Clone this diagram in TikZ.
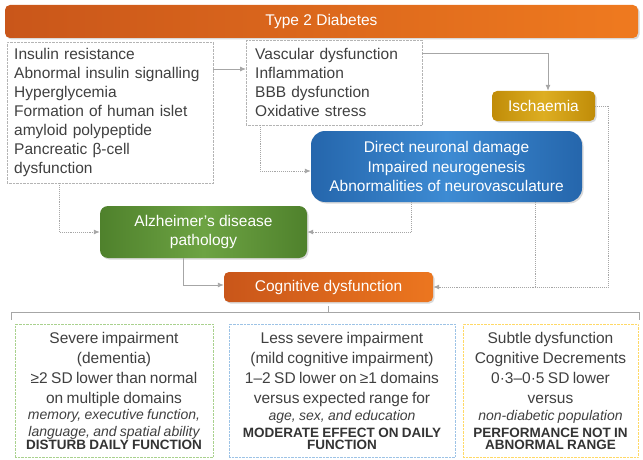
\documentclass[tikz,border=0pt]{standalone}
\usepackage{fontspec}
\setmainfont{Liberation Sans}
\usetikzlibrary{arrows.meta,positioning,shadows}
\definecolor{ink}{HTML}{404040}
\definecolor{darkink}{HTML}{333333}
\definecolor{wire}{HTML}{A6A6A6}
\definecolor{frame}{HTML}{B4B4B4}
\definecolor{diabdark}{HTML}{C9561A}
\definecolor{diablight}{HTML}{EF7A1F}
\definecolor{ischdark}{HTML}{C08C08}
\definecolor{ischlight}{HTML}{DDAE22}
\definecolor{bluedark}{HTML}{2566AC}
\definecolor{bluelight}{HTML}{3D8BD3}
\definecolor{greendark}{HTML}{4F812C}
\definecolor{greenlight}{HTML}{6DA343}
\definecolor{cogdark}{HTML}{C9561A}
\definecolor{coglight}{HTML}{EC761F}
\definecolor{sevframe}{HTML}{A9D18E}
\definecolor{mildframe}{HTML}{9DC3E6}
\definecolor{subtframe}{HTML}{FFD966}
\newcommand{\bigtxt}{\fontsize{15.5}{20}\selectfont}
\newcommand{\smalltxt}{\fontsize{14}{16.5}\selectfont\itshape}
\newcommand{\capstxt}{\fontsize{13.5}{17}\selectfont\upshape\bfseries\color{darkink}}
\tikzset{
  >={Latex[length=6pt,width=5pt]},
  every node/.style={text=ink},
  listbox/.style={draw=frame,densely dotted,fill=white,anchor=north west,align=left,
    font=\fontsize{15.5}{19}\selectfont,inner ysep=3pt},
  solidbox/.style={draw=none,text=white,align=center,font=\fontsize{15.5}{19.5}\selectfont,
    drop shadow={shadow xshift=1.5pt,shadow yshift=-1.5pt,opacity=0.3}},
  bannerbox/.style={solidbox,left color=diabdark,right color=diablight,rounded corners=5pt},
  ischbox/.style={solidbox,left color=ischdark,right color=ischdark,middle color=ischlight,rounded corners=5pt},
  bluebox/.style={solidbox,left color=bluedark,right color=bluedark,middle color=bluelight,rounded corners=14pt},
  greenbox/.style={solidbox,left color=greendark,right color=greendark,middle color=greenlight,rounded corners=8pt},
  cogbox/.style={solidbox,left color=cogdark,right color=coglight,rounded corners=5pt},
  rangebox/.style={densely dotted,fill=white,anchor=north,align=center,inner xsep=4pt,
    minimum height=133pt},
  feed/.style={->,draw=wire,line width=0.9pt},
  dotfeed/.style={->,draw=wire,line width=0.9pt,densely dotted},
  dotwire/.style={draw=wire,line width=0.9pt,densely dotted},
  brace/.style={draw=wire,line width=0.9pt},
}

\begin{document}
\begin{tikzpicture}[x=1pt,y=-1pt]
\useasboundingbox (0,0) rectangle (643,460);

\node[bannerbox,minimum width=633pt,minimum height=33pt] (t2d) at (321.5,21.5) {Type 2 Diabetes};

\node[listbox,text width=192pt,inner xsep=7pt,minimum height=141pt] (risk) at (7,42)
{Insulin resistance\\Abnormal insulin signalling\\Hyperglycemia\\Formation of human islet\\amyloid polypeptide\\Pancreatic β-cell\\dysfunction};
\node[listbox,text width=158pt,inner xsep=9pt,minimum height=85pt] (mech) at (246,40)
{Vascular dysfunction\\Inflammation\\BBB dysfunction\\Oxidative stress};

\node[ischbox,minimum width=103pt,minimum height=30pt] (isch) at (543.5,106) {Ischaemia};
\node[bluebox,minimum width=271pt,minimum height=71pt] (neuro) at (446.5,166.5)
{Direct neuronal damage\\Impaired neurogenesis\\Abnormalities of neurovasculature};
\node[greenbox,minimum width=207pt,minimum height=52pt] (ad) at (203.5,232)
{Alzheimer’s disease\\pathology};
\node[cogbox,minimum width=209pt,minimum height=30pt] (cog) at (328.5,287) {Cognitive dysfunction};

\draw[feed] (risk.east |- 0,69) -- (mech.west |- 0,69);
\draw[feed] ([yshift=-13pt]mech.north east) -| ([xshift=4.5pt]isch.north);
\draw[dotfeed] ([xshift=-74pt]mech.south) |- ([yshift=-4.5pt]neuro.west);
\draw[dotfeed] ([xshift=-51pt]risk.south) |- (ad.west);
\draw[dotfeed] ([xshift=-35.5pt]neuro.south) |- (ad.east);
\draw[feed] ([xshift=-20.5pt]ad.south) |- ([yshift=2pt]cog.west);
\draw[dotfeed] (isch.east) -- ++(13,0) |- (cog.east);
\draw[dotwire] ([xshift=88.5pt]neuro.south) -- ([xshift=88.5pt]neuro.south |- cog.east);

\node[rangebox,draw=sevframe,text width=190pt,minimum width=198pt] (severe) at (114,324)
{\bigtxt Severe impairment\\(dementia)\\≥2 SD lower than normal\\on multiple domains\par
 \smalltxt memory, executive function,\\language, and spatial ability\par
 \capstxt DISTURB DAILY FUNCTION};
\node[rangebox,draw=mildframe,text width=218pt,minimum width=226pt] (mild) at (342,324)
{\bigtxt Less severe impairment\\(mild cognitive impairment)\\1–2 SD lower on ≥1 domains\\versus expected range for\par
 \smalltxt age, sex, and education\par
 \capstxt MODERATE EFFECT ON DAILY\\FUNCTION};
\node[rangebox,draw=subtframe,text width=167pt,minimum width=175pt] (subtle) at (550.5,324)
{\bigtxt Subtle dysfunction\\Cognitive Decrements\\0·3–0·5 SD lower\\versus\par
 \smalltxt non-diabetic population\par
 \capstxt PERFORMANCE NOT IN\\ABNORMAL RANGE};

\draw[brace] ([yshift=-4pt]cog.south) -- ++(0,6);
\draw[brace] ([shift={(-3pt,4pt)}]severe.north west) -- ++(0,-8) -| ([shift={(1pt,4pt)}]subtle.north east);

\end{tikzpicture}
\end{document}
